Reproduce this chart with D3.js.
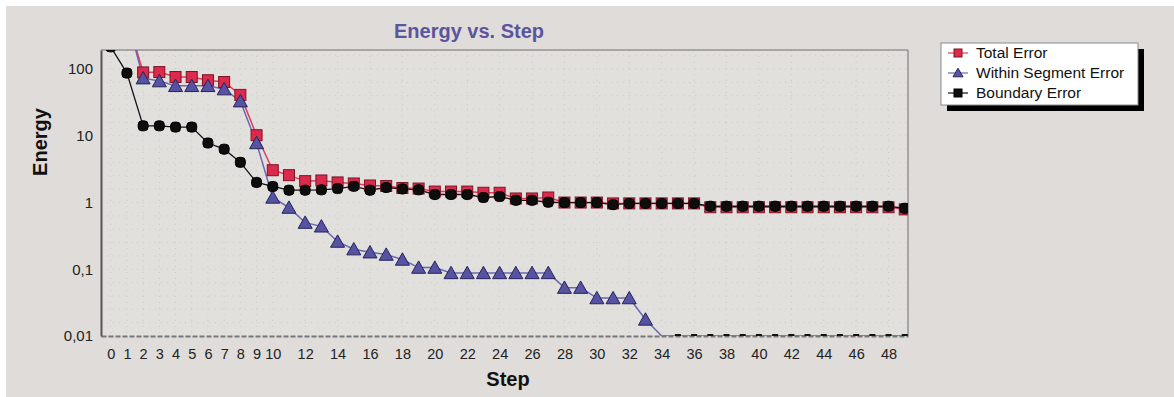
<!DOCTYPE html>
<html>
<head>
<meta charset="utf-8">
<script src="https://cdn.jsdelivr.net/npm/d3@7"></script>
<style>
  body { margin: 0; background: #ffffff; }
  svg { display: block; font-family: "Liberation Sans", Arial, sans-serif; }
</style>
</head>
<body>
<div id="chart"></div>
<script>
// steps 0..49
const steps = d3.range(0, 50);

const totalError = [1500, 600, 89, 90, 76, 76, 68, 64, 41, 10.2,
  3.05, 2.57, 2.09, 2.14, 2.0, 1.93, 1.8, 1.77, 1.65, 1.62,
  1.46, 1.46, 1.46, 1.4, 1.4, 1.15, 1.15, 1.19, 1.0, 1.0,
  1.0, 0.97, 0.97, 0.97, 0.97, 0.97, 0.97, 0.85, 0.85, 0.85,
  0.85, 0.85, 0.85, 0.85, 0.85, 0.85, 0.85, 0.85, 0.85, 0.79];

const withinError = [1500, 600, 73, 66, 56, 56, 56, 50, 33, 7.8,
  1.19, 0.84, 0.50, 0.44, 0.26, 0.20, 0.18, 0.166, 0.14, 0.106,
  0.106, 0.088, 0.088, 0.088, 0.088, 0.088, 0.088, 0.088, 0.053, 0.053,
  0.037, 0.037, 0.037, 0.0177, 0.01, 0.01, 0.01, 0.01, 0.01, 0.01,
  0.01, 0.01, 0.01, 0.01, 0.01, 0.01, 0.01, 0.01, 0.01, 0.01];

const boundaryError = [215, 87, 14.1, 14.1, 13.5, 13.5, 7.8, 6.3, 4.0, 2.0,
  1.74, 1.53, 1.53, 1.55, 1.62, 1.75, 1.53, 1.68, 1.6, 1.55,
  1.32, 1.32, 1.32, 1.19, 1.23, 1.08, 1.08, 1.01, 1.0, 1.0,
  1.0, 0.93, 0.97, 0.97, 0.97, 0.97, 0.97, 0.88, 0.88, 0.88,
  0.88, 0.88, 0.88, 0.88, 0.88, 0.88, 0.88, 0.88, 0.88, 0.82];

const xTicks = [0, 1, 2, 3, 4, 5, 6, 7, 8, 9, 10, 12, 14, 16, 18, 20, 22, 24,
  26, 28, 30, 32, 34, 36, 38, 40, 42, 44, 46, 48];
const yTicks = [100, 10, 1, 0.1, 0.01];
const yTickLabels = ["100", "10", "1", "0,1", "0,01"];

const seriesNames = ["Total Error", "Within Segment Error", "Boundary Error"];

const width = 1174, height = 397;
const plot = { left: 101, right: 908, top: 50, bottom: 336 };

const svg = d3.select('#chart').append('svg')
    .attr('width', width)
    .attr('height', height);

// panel background
svg.append('rect').attr('x', 6).attr('y', 6)
    .attr('width', width - 6).attr('height', height - 6)
    .attr('fill', '#dfdcd9');

const x = d3.scaleLinear().domain([-0.6, 49.2]).range([plot.left, plot.right]);
const y = d3.scaleLog().domain([0.01, 193]).range([plot.bottom, plot.top]);

svg.append('rect')
    .attr('x', plot.left).attr('y', plot.top)
    .attr('width', plot.right - plot.left).attr('height', plot.bottom - plot.top)
    .attr('fill', '#e2e0dd');

svg.append('clipPath').attr('id', 'plotClip')
    .append('rect')
    .attr('x', plot.left).attr('y', plot.top)
    .attr('width', plot.right - plot.left).attr('height', plot.bottom - plot.top);

// dotted grid
const grid = svg.append('g').attr('stroke', '#cdcbc8').attr('stroke-dasharray', '1,5');
grid.selectAll('line.v').data(xTicks).join('line')
    .attr('class', 'v')
    .attr('x1', d => x(d)).attr('x2', d => x(d))
    .attr('y1', plot.top).attr('y2', plot.bottom);
const hGrid = d3.range(-2, 2.4, 0.2).map(e => Math.pow(10, e));
grid.selectAll('line.h').data(hGrid).join('line')
    .attr('class', 'h')
    .attr('x1', plot.left).attr('x2', plot.right)
    .attr('y1', d => y(d)).attr('y2', d => y(d));

// frame
svg.append('line').attr('x1', plot.left).attr('x2', plot.right)
    .attr('y1', plot.top).attr('y2', plot.top).attr('stroke', '#6e6e6e');
svg.append('line').attr('x1', plot.right).attr('x2', plot.right)
    .attr('y1', plot.top).attr('y2', plot.bottom).attr('stroke', '#6e6e6e');

// axes
const xAxis = svg.append('g')
    .attr('transform', `translate(0,${plot.bottom})`)
    .call(d3.axisBottom(x).tickValues(xTicks).tickSize(0).tickPadding(13).tickFormat(d3.format('d')));
xAxis.select('.domain').attr('stroke', '#777').attr('stroke-width', 2).attr('stroke-dasharray', '5,2');
xAxis.selectAll('text').attr('font-size', 14.5).attr('fill', '#222').attr('font-family', '"Liberation Sans", Arial, sans-serif');

const yAxis = svg.append('g')
    .attr('transform', `translate(${plot.left},0)`)
    .call(d3.axisLeft(y).tickValues(yTicks).tickSize(0).tickPadding(8)
        .tickFormat((d, i) => yTickLabels[i]));
yAxis.select('.domain').attr('stroke', '#555').attr('stroke-width', 2);
yAxis.selectAll('text').attr('font-size', 15).attr('fill', '#222').attr('font-family', '"Liberation Sans", Arial, sans-serif');

// titles
svg.append('text').attr('x', 469).attr('y', 38)
    .attr('text-anchor', 'middle').attr('font-size', 20).attr('font-weight', 'bold')
    .attr('fill', '#5a559e').text('Energy vs. Step');
svg.append('text').attr('x', 508).attr('y', 386)
    .attr('text-anchor', 'middle').attr('font-size', 20).attr('font-weight', 'bold')
    .attr('fill', '#111').text('Step');
svg.append('text').attr('transform', 'translate(47,142) rotate(-90)')
    .attr('text-anchor', 'middle').attr('font-size', 20).attr('font-weight', 'bold')
    .attr('fill', '#111').text('Energy');

// series
const series = [
    { name: seriesNames[0], values: totalError, line: '#e23a5c', fill: '#dc2a4c', stroke: '#7d1424', shape: 'square' },
    { name: seriesNames[1], values: withinError, line: '#6a67b3', fill: '#5653a2', stroke: '#25235c', shape: 'triangle' },
    { name: seriesNames[2], values: boundaryError, line: '#111111', fill: '#0d0d0d', stroke: '#000000', shape: 'round' },
];

const lineGen = d3.line().x((d, i) => x(steps[i])).y(d => y(d));
const plotG = svg.append('g').attr('clip-path', 'url(#plotClip)');

function drawMarker(g, shape, size, fill, stroke) {
    if (shape === 'square') {
        g.append('rect').attr('x', -size / 2).attr('y', -size / 2)
            .attr('width', size).attr('height', size)
            .attr('fill', fill).attr('stroke', stroke).attr('stroke-width', 1);
    } else if (shape === 'triangle') {
        const h = size * 0.95;
        g.append('path').attr('d', `M0,${-h / 2 - 1}L${size / 2 + 1},${h / 2}L${-size / 2 - 1},${h / 2}Z`)
            .attr('fill', fill).attr('stroke', stroke).attr('stroke-width', 1);
    } else {
        g.append('rect').attr('x', -size / 2).attr('y', -size / 2)
            .attr('width', size).attr('height', size).attr('rx', size / 2.6)
            .attr('fill', fill).attr('stroke', stroke).attr('stroke-width', 1);
    }
}

series.forEach(s => {
    plotG.append('path').datum(s.values)
        .attr('d', lineGen)
        .attr('fill', 'none')
        .attr('stroke', s.line)
        .attr('stroke-width', s.shape === 'round' ? 1.3 : 1.5);
});

// floor marks where Within Segment Error has hit the bottom
plotG.append('g').selectAll('rect')
    .data(steps.filter(i => withinError[i] <= 0.01 && i > 34))
    .join('rect')
    .attr('x', d => x(d) - 3).attr('y', plot.bottom - 2)
    .attr('width', 6).attr('height', 3).attr('fill', '#111');

series.forEach(s => {
    const size = s.shape === 'triangle' ? 12 : (s.shape === 'square' ? 11 : 10);
    const g = plotG.append('g');
    steps.forEach(i => {
        const v = s.values[i];
        if (v <= 0.01) return;
        const m = g.append('g').attr('transform', `translate(${x(steps[i])},${y(v)})`);
        drawMarker(m, s.shape, size, s.fill, s.stroke);
    });
});

// legend
const lg = svg.append('g').attr('transform', 'translate(941,43)');
lg.append('rect').attr('x', 6).attr('y', 6).attr('width', 197).attr('height', 62).attr('fill', '#000');
lg.append('rect').attr('x', 0).attr('y', 0).attr('width', 197).attr('height', 62)
    .attr('fill', '#fff').attr('stroke', '#8a8a8a');
series.forEach((s, i) => {
    const row = lg.append('g').attr('transform', `translate(0,${10 + i * 20})`);
    row.append('line').attr('x1', 7).attr('x2', 27).attr('y1', 0).attr('y2', 0)
        .attr('stroke', s.line).attr('stroke-width', 1.2);
    const m = row.append('g').attr('transform', 'translate(17,0)');
    drawMarker(m, s.shape === 'round' ? 'square' : s.shape, 8, s.fill, s.stroke);
    row.append('text').attr('x', 35).attr('y', 5).attr('font-size', 15.5).attr('fill', '#111')
        .text(s.name);
});
</script>
</body>
</html>
